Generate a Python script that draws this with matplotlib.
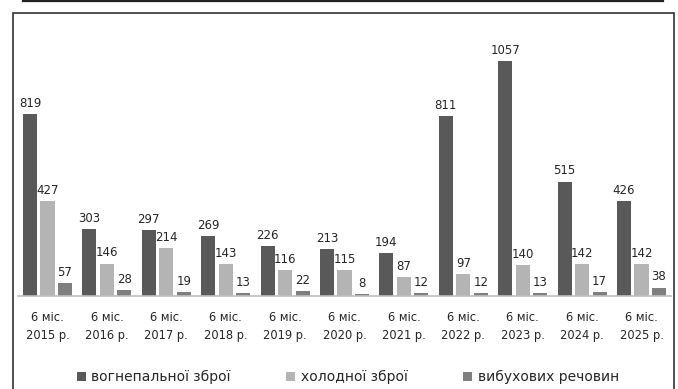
import matplotlib
matplotlib.use("Agg")
import matplotlib.pyplot as plt
import numpy as np
from matplotlib.patches import Rectangle
from matplotlib.lines import Line2D

periods = ["2015", "2016", "2017", "2018", "2019", "2020",
           "2021", "2022", "2023", "2024", "2025"]
firearms = [819, 303, 297, 269, 226, 213, 194, 811, 1057, 515, 426]
cold_steel = [427, 146, 214, 143, 116, 115, 87, 97, 140, 142, 142]
explosives = [57, 28, 19, 13, 22, 8, 12, 12, 13, 17, 38]

series = [
    ("вогнепальної зброї", firearms, "#595959"),
    ("холодної зброї", cold_steel, "#b4b4b4"),
    ("вибухових речовин", explosives, "#7f7f7f"),
]
tick_labels = [f"6 міс.\n{p} р." for p in periods]

plt.rcParams["font.family"] = ["DejaVu Sans"]
text_color = "#262626"

W, H = 678, 389
fig = plt.figure(figsize=(W / 100, H / 100), dpi=100)
ax = fig.add_axes([17.8 / W, 1 - 296 / H, 653.4 / W, 276 / H])

x = np.arange(len(periods))
width = 0.236
step = 0.295
for i, (name, vals, color) in enumerate(series):
    pos = x + (i - 1) * step
    bars = ax.bar(pos, vals, width, color=color, label=name)
    ax.bar_label(bars, labels=[str(v) for v in vals], padding=3,
                 fontsize=8.5, color=text_color)

ax.set_xlim(-0.5, len(periods) - 0.5)
ax.set_ylim(0, 276 / (182 / 819))
ax.set_xticks(x)
ax.set_xticklabels(tick_labels, fontsize=8.3, color=text_color,
                   linespacing=1.5)
ax.tick_params(axis="x", length=0, pad=11)
ax.set_yticks([])
for side in ["top", "left", "right"]:
    ax.spines[side].set_visible(False)
ax.spines["bottom"].set_color("#bfbfbf")
ax.spines["bottom"].set_linewidth(1.2)

fig.legend(loc="center", bbox_to_anchor=(348 / W, 1 - 377 / H), ncol=3,
           frameon=False, fontsize=10, handlelength=0.65, handleheight=0.65,
           handletextpad=0.4, columnspacing=4.0, labelcolor=text_color)

# outer frame and the rule above it
fig.patches.append(Rectangle((12.5 / W, -0.05), 661 / W, 1.05 - 12.5 / H,
                             transform=fig.transFigure, fill=False,
                             edgecolor="#333333", linewidth=1.2))
fig.lines.append(Line2D([23 / W, 663 / W], [1 - 1 / H, 1 - 1 / H],
                        transform=fig.transFigure, color="#222222",
                        linewidth=1.6))

fig.savefig("out.png", dpi=100)
